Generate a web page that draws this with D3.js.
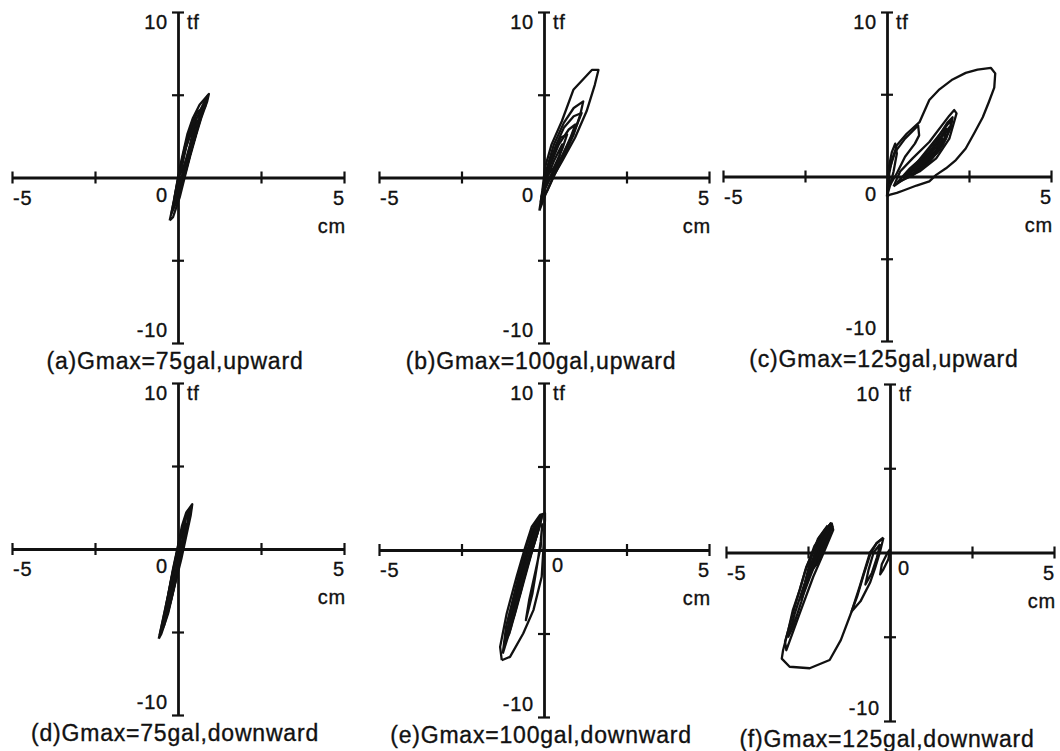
<!DOCTYPE html>
<html>
<head>
<meta charset="utf-8">
<script src="https://cdn.jsdelivr.net/npm/d3@7"></script>
<style>
  body { margin: 0; background: #fff; }
  svg text { font-family: "Liberation Sans", Arial, Helvetica, sans-serif; fill: #111; stroke: #111; stroke-width: 0.35px; }
</style>
</head>
<body>
<svg id="chart" width="1060" height="751"></svg>
<script>
// ---- data (displacement cm, load tf) ----
const titles = [
  "(a)Gmax=75gal,upward", "(b)Gmax=100gal,upward", "(c)Gmax=125gal,upward",
  "(d)Gmax=75gal,downward", "(e)Gmax=100gal,downward", "(f)Gmax=125gal,downward"
];
const xDomain = [-5, 5];
const yDomain = [-10, 10];
const xTicks = [-5, -2.5, 2.5, 5];
const yTicks = [-10, -5, 5, 10];
const xUnit = "cm";
const yUnit = "tf";

const loopsA = [
  [[-0.25,-2.6],[-0.12,-1.4],[0.0,0],[0.12,1.2],[0.28,2.6],[0.45,3.6],[0.65,4.4],[0.93,5.05],[0.88,4.6],[0.7,3.6],[0.55,2.6],[0.38,1.4],[0.2,0],[0.05,-1.2],[-0.15,-2.4],[-0.25,-2.6]],
  [[-0.1,-1.2],[0.02,0],[0.18,1.5],[0.32,2.5],[0.52,3.4],[0.72,4.2],[0.85,4.8],[0.75,4.0],[0.58,2.9],[0.42,1.8],[0.25,0.5],[0.1,-0.6],[-0.1,-1.2]],
  [[0.0,-0.3],[0.12,0.9],[0.3,2.3],[0.5,3.1],[0.62,3.5],[0.52,2.5],[0.36,1.4],[0.16,0.2],[0.0,-0.3]],
  [[0.05,0.2],[0.2,1.6],[0.4,2.8],[0.55,3.4],[0.45,2.4],[0.3,1.3],[0.1,0.3],[0.05,0.2]],
  [[0.6,3.8],[0.78,4.5],[0.9,4.95],[0.82,4.3],[0.62,3.6]],
  [[-0.2,-2.2],[-0.05,-0.6],[0.1,0.9],[0.25,2.1],[0.42,3.2],[0.6,4.0],[0.7,4.1],[0.6,3.2],[0.45,2.1],[0.3,0.9],[0.12,-0.3],[-0.05,-1.5],[-0.2,-2.2]],
  [[-0.15,-1.8],[0.05,0.2],[0.2,1.8],[0.38,3.0],[0.5,3.6],[0.48,3.0],[0.35,1.9],[0.2,0.8],[0.05,-0.5],[-0.15,-1.8]],
  [[0.1,0.5],[0.25,1.9],[0.45,3.0],[0.6,3.3],[0.55,2.7],[0.4,1.7],[0.22,0.7],[0.1,0.5]]
];
const loopsB = [
  [[-0.14,-2.0],[-0.05,-0.8],[0.03,0.6],[0.23,2.0],[0.54,3.4],[0.89,5.3],[1.45,6.5],[1.65,6.5],[1.54,5.6],[1.29,4.0],[0.94,2.4],[0.54,0.95],[0.28,0.05],[0.05,-1.0],[-0.14,-2.0]],
  [[-0.1,-1.5],[0.05,0.3],[0.3,2.0],[0.6,3.3],[0.9,4.2],[1.19,4.6],[1.1,3.8],[0.9,2.6],[0.6,1.3],[0.35,0.3],[0.1,-0.8],[-0.1,-1.5]],
  [[-0.05,-1.0],[0.1,0.4],[0.35,1.9],[0.6,3.0],[0.9,3.7],[1.14,3.9],[1.0,3.2],[0.75,2.1],[0.45,0.9],[0.2,0.0],[-0.05,-1.0]],
  [[0.0,-0.5],[0.2,0.8],[0.45,2.0],[0.75,2.9],[0.95,3.2],[0.8,2.4],[0.55,1.3],[0.3,0.3],[0.0,-0.5]],
  [[0.05,0.0],[0.25,1.3],[0.5,2.4],[0.7,2.6],[0.55,1.7],[0.3,0.6],[0.05,0.0]],
  [[-0.08,-1.2],[0.1,0.0],[0.3,1.0],[0.55,2.0],[0.45,1.1],[0.2,0.1],[-0.08,-1.2]]
];
const loopsC = [
  [[0.0,-1.2],[0.05,0.0],[0.15,1.0],[0.3,1.9],[0.6,2.6],[0.99,3.3],[1.29,4.65],[1.6,5.3],[2.0,5.9],[2.4,6.3],[2.76,6.5],[3.17,6.6],[3.3,6.27],[3.27,5.4],[3.1,4.5],[2.92,3.6],[2.65,2.6],[2.4,1.7],[2.1,1.0],[1.8,0.5],[1.5,0.1],[1.29,-0.3],[0.9,-0.55],[0.5,-0.85],[0.3,-1.0],[0.1,-1.1],[0.0,-1.2]],
  [[0.05,0.3],[0.25,1.5],[0.55,2.3],[0.95,3.1],[0.98,2.5],[0.85,2.0],[0.55,1.2],[0.3,0.2],[0.1,-0.5],[0.05,0.3]],
  [[0.2,-0.6],[0.4,0.3],[0.78,1.1],[1.29,2.1],[1.9,3.7],[2.05,4.04],[2.12,3.84],[1.9,2.3],[1.5,1.1],[0.99,0.3],[0.48,-0.2],[0.2,-0.6]],
  [[0.5,0.0],[0.9,0.8],[1.3,1.8],[1.7,2.8],[1.98,3.5],[1.9,2.8],[1.6,1.6],[1.2,0.8],[0.8,0.2],[0.5,0.0]],
  [[0.7,0.3],[1.1,1.0],[1.5,2.0],[1.8,2.9],[1.75,2.3],[1.45,1.4],[1.1,0.8],[0.7,0.3]],
  [[0.9,0.7],[1.3,1.5],[1.6,2.3],[1.5,1.6],[1.2,1.0],[0.9,0.7]],
  [[0.0,-1.2],[0.05,0.5],[0.15,1.5],[0.25,2.0],[0.3,1.4],[0.2,0.3],[0.1,-0.5],[0.0,-1.2]],
  [[0.6,0.1],[1.0,0.8],[1.4,1.7],[1.75,2.6],[1.9,3.0],[1.8,2.3],[1.5,1.4],[1.1,0.7],[0.6,0.1]],
  [[0.8,0.4],[1.2,1.1],[1.55,1.9],[1.7,2.3],[1.55,1.6],[1.25,1.0],[0.8,0.4]],
  [[0.3,-0.4],[0.7,0.5],[1.1,1.2],[1.5,2.2],[1.85,3.3],[2.0,3.6],[1.95,3.0],[1.7,1.9],[1.3,0.9],[0.8,0.1],[0.3,-0.4]]
];
const loopsD = [
  [[-0.58,-5.4],[-0.45,-4.2],[-0.3,-2.8],[-0.15,-1.2],[0.0,0.2],[0.12,1.4],[0.25,2.2],[0.43,2.7],[0.38,2.0],[0.25,0.8],[0.1,-0.6],[-0.1,-2.2],[-0.3,-3.9],[-0.5,-5.1],[-0.58,-5.4]],
  [[-0.5,-4.9],[-0.3,-3.2],[-0.1,-1.0],[0.08,0.8],[0.25,2.0],[0.35,2.4],[0.28,1.6],[0.12,0.0],[-0.08,-2.0],[-0.3,-3.8],[-0.5,-4.9]],
  [[-0.4,-4.0],[-0.2,-2.0],[0.0,0.0],[0.15,1.2],[0.2,1.5],[0.15,0.6],[0.0,-0.8],[-0.2,-2.8],[-0.4,-4.0]],
  [[-0.35,-3.4],[-0.15,-1.3],[0.05,0.6],[0.1,0.4],[-0.05,-1.2],[-0.25,-3.0],[-0.35,-3.4]],
  [[-0.55,-5.2],[-0.38,-3.6],[-0.2,-1.8],[-0.02,-0.2],[0.15,1.3],[0.3,2.3],[0.4,2.5],[0.32,1.7],[0.18,0.4],[0.0,-1.2],[-0.2,-3.0],[-0.42,-4.6],[-0.55,-5.2]],
  [[-0.45,-4.6],[-0.25,-2.5],[-0.05,-0.5],[0.1,1.0],[0.22,1.8],[0.2,1.1],[0.05,-0.3],[-0.15,-2.3],[-0.35,-4.0],[-0.45,-4.6]]
];
const loopsE = [
  [[-1.28,-6.6],[-1.33,-5.8],[-1.13,-3.8],[-0.83,-1.6],[-0.58,0.1],[-0.37,1.4],[-0.12,2.1],[0.03,2.2],[0.03,1.8],[-0.02,0.0],[-0.07,-1.6],[-0.32,-3.6],[-0.63,-5.0],[-1.03,-6.4],[-1.28,-6.6]],
  [[-1.2,-5.6],[-1.0,-3.8],[-0.75,-1.8],[-0.5,0.0],[-0.3,1.3],[-0.1,2.0],[-0.15,1.3],[-0.35,0.0],[-0.6,-1.8],[-0.85,-3.6],[-1.05,-5.0],[-1.2,-5.6]],
  [[-1.1,-5.0],[-0.9,-3.4],[-0.68,-1.6],[-0.45,0.2],[-0.25,1.4],[-0.08,1.9],[-0.2,1.0],[-0.4,-0.3],[-0.65,-2.0],[-0.9,-3.9],[-1.1,-5.0]],
  [[-0.95,-4.0],[-0.75,-2.2],[-0.52,-0.4],[-0.3,1.0],[-0.15,1.7],[-0.28,0.7],[-0.48,-0.7],[-0.72,-2.6],[-0.95,-4.0]],
  [[-0.05,1.6],[-0.1,0.5],[-0.2,-0.8],[-0.35,-2.6],[-0.55,-4.2],[-0.45,-3.0],[-0.25,-1.2],[-0.1,0.2],[-0.05,1.6]],
  [[-1.25,-6.2],[-1.15,-4.6],[-0.9,-2.6],[-0.65,-0.6],[-0.45,0.8],[-0.2,1.8],[-0.05,2.1],[-0.12,1.5],[-0.3,0.4],[-0.55,-1.2],[-0.8,-3.0],[-1.0,-4.6],[-1.25,-6.2]],
  [[-1.15,-5.3],[-0.95,-3.3],[-0.72,-1.3],[-0.52,0.3],[-0.35,1.2],[-0.15,1.9],[-0.25,1.0],[-0.45,-0.3],[-0.7,-2.1],[-0.95,-4.1],[-1.15,-5.3]]
];
const loopsF = [
  [[-0.2,0.88],[-0.41,0.55],[-0.61,0.0],[-0.92,-2.0],[-1.17,-3.5],[-1.5,-5.2],[-1.84,-6.38],[-2.45,-6.87],[-3.06,-6.78],[-3.3,-6.3],[-3.26,-5.8],[-3.1,-4.6],[-2.96,-3.4],[-2.75,-2.2],[-2.55,-0.84],[-2.14,0.94],[-1.9,1.5],[-1.78,1.77]],
  [[-1.78,1.77],[-1.73,1.34],[-2.03,-0.05],[-2.34,-1.44],[-2.75,-3.6],[-3.16,-5.8],[-3.2,-5.3],[-2.9,-3.2],[-2.6,-1.2],[-2.3,0.4],[-2.0,1.3],[-1.78,1.77]],
  [[-1.8,1.6],[-1.9,0.8],[-2.15,-0.5],[-2.45,-1.2],[-2.3,-0.2],[-2.1,0.9],[-1.8,1.6]],
  [[-1.8,1.7],[-2.0,0.5],[-2.3,-0.8],[-2.2,0.3],[-1.95,1.3],[-1.8,1.7]],
  [[-1.85,1.5],[-2.1,0.2],[-2.45,-1.5],[-2.7,-2.8],[-2.5,-1.3],[-2.2,0.5],[-1.85,1.5]],
  [[-0.2,0.88],[-0.31,0.0],[-0.45,-0.9],[-0.61,-1.8],[-0.9,-2.9],[-1.17,-3.5],[-1.0,-2.6],[-0.8,-1.3],[-0.6,-0.1],[-0.41,0.55],[-0.2,0.88]],
  [[-0.3,0.5],[-0.4,-0.3],[-0.55,-1.2],[-0.75,-1.9],[-0.65,-1.0],[-0.5,0.0],[-0.3,0.5]],
  [[0.0,0.2],[-0.05,-0.4],[-0.2,-1.0],[-0.3,-1.3],[-0.25,-0.7],[-0.1,-0.1],[0.0,0.2]],
  [[-1.8,1.75],[-1.95,1.0],[-2.2,-0.2],[-2.5,-1.6],[-2.4,-0.8],[-2.15,0.4],[-1.9,1.4],[-1.8,1.75]],
  [[-1.75,1.6],[-1.85,1.0],[-2.05,0.0],[-2.2,-0.5],[-2.05,0.4],[-1.85,1.3],[-1.75,1.6]],
  [[-1.9,1.6],[-2.2,0.8],[-2.4,-0.3],[-2.6,-1.8],[-2.9,-3.6],[-3.1,-5.0],[-2.95,-4.4],[-2.7,-2.9],[-2.45,-1.0],[-2.2,0.3],[-1.9,1.6]],
  [[-1.82,1.7],[-1.9,1.2],[-2.1,0.4],[-2.0,0.9],[-1.82,1.7]]
];
const panelLoops = [loopsA, loopsB, loopsC, loopsD, loopsE, loopsF];

// ---- layout (pixel frames of each small plot) ----
const frames = [
  {x0: 12, x1: 344, y0: 12, y1: 343},
  {x0: 379, x1: 709, y0: 12, y1: 343},
  {x0: 723, x1: 1051, y0: 12, y1: 341},
  {x0: 12, x1: 344, y0: 383, y1: 715},
  {x0: 379, x1: 709, y0: 383, y1: 717},
  {x0: 726, x1: 1054, y0: 384, y1: 721}
];
const zeroOnRight = [false, false, false, false, true, true];

const svg = d3.select("#chart");

frames.forEach((f, i) => {
  var x = d3.scaleLinear().domain(xDomain).range([f.x0, f.x1]);
  var y = d3.scaleLinear().domain(yDomain).range([f.y1, f.y0]);
  var g = svg.append("g").attr("class", "panel");
  var ax = x(0), ay = y(0);

  // x axis through y=0, ticks crossing both sides
  var xa = g.append("g").attr("transform", `translate(0,${ay})`)
    .call(d3.axisBottom(x).tickValues(xTicks).tickSize(6).tickSizeOuter(0).tickFormat(""));
  xa.selectAll(".tick line").attr("y1", -6).attr("y2", 6).attr("stroke-width", 2.2);
  xa.select(".domain").attr("stroke-width", 2.8);

  // y axis through x=0
  var ya = g.append("g").attr("transform", `translate(${ax},0)`)
    .call(d3.axisLeft(y).tickValues(yTicks).tickSize(6).tickSizeOuter(0).tickFormat(""));
  ya.selectAll(".tick line").attr("x1", -6).attr("x2", 6).attr("stroke-width", 2.2);
  ya.select(".domain").attr("stroke-width", 2.8);
  g.selectAll(".domain, .tick line").attr("stroke", "#111");

  // labels
  var lab = (t, px, py, anchor) => g.append("text").attr("x", px).attr("y", py)
    .attr("text-anchor", anchor).attr("font-size", 20).attr("letter-spacing", 0.8).text(t);
  lab(String(yDomain[1]), ax - 10, y(yDomain[1]) + 17, "end");
  lab(yUnit, ax + 9, y(yDomain[1]) + 17, "start");
  lab(String(yDomain[0]), ax - 10, y(yDomain[0]) - 6, "end");
  lab(String(xDomain[0]), x(xDomain[0]) + 1, ay + 27, "start");
  lab(String(xDomain[1]), x(xDomain[1]) + 1, ay + 27, "end");
  lab(xUnit, x(xDomain[1]) + 2, ay + 55, "end");
  if (zeroOnRight[i]) lab("0", ax + 8, ay + 22, "start");
  else lab("0", ax - 10, ay + 24, "end");

  g.append("text").attr("x", (f.x0 + f.x1) / 2 - 3).attr("y", f.y1 + 26)
    .attr("text-anchor", "middle").attr("font-size", 23).attr("letter-spacing", 0.8)
    .text(titles[i]);

  // hysteresis loops
  var line = d3.line().x(d => x(d[0])).y(d => y(d[1]));
  g.selectAll(".loop").data(panelLoops[i]).join("path").attr("class", "loop")
    .attr("d", line).attr("fill", "none").attr("stroke", "#111")
    .attr("stroke-width", 2.3).attr("stroke-linejoin", "round");
});
</script>
</body>
</html>
